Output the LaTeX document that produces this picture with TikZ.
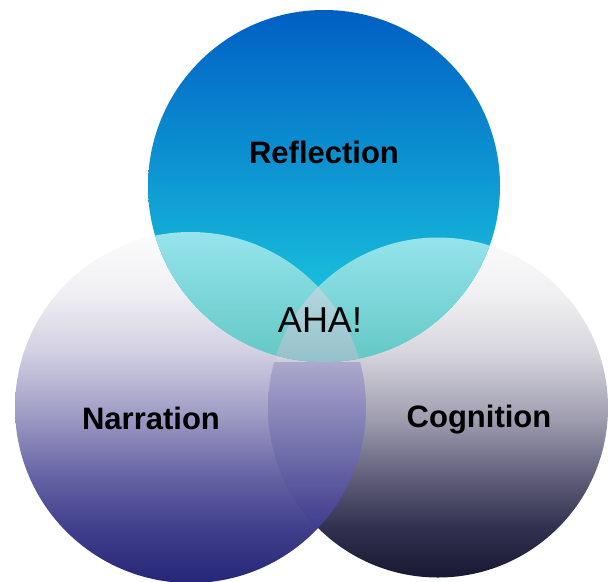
\documentclass[tikz,border=0pt]{standalone}
\usepackage{fontspec}
\setmainfont{Liberation Sans}
\definecolor{blueTop}{RGB}{0,95,196}
\definecolor{blueMid}{RGB}{14,166,224}
\definecolor{blueBot}{RGB}{30,214,226}
\definecolor{lensTop}{RGB}{172,169,205}
\definecolor{lensBot}{RGB}{62,60,142}
\definecolor{tealTop}{RGB}{150,228,236}
\definecolor{tealBot}{RGB}{98,200,196}
\definecolor{ahaTop}{RGB}{178,216,224}
\definecolor{ahaBot}{RGB}{150,192,202}
\definecolor{narrA}{RGB}{38,38,118}
\definecolor{narrB}{RGB}{62,62,140}
\definecolor{narrC}{RGB}{100,98,162}
\definecolor{narrD}{RGB}{156,153,196}
\definecolor{narrE}{RGB}{210,208,226}
\definecolor{narrF}{RGB}{240,240,244}
\definecolor{narrG}{RGB}{252,252,252}
\definecolor{cognA}{RGB}{24,24,50}
\definecolor{cognB}{RGB}{50,50,80}
\definecolor{cognC}{RGB}{98,96,124}
\definecolor{cognD}{RGB}{160,158,176}
\definecolor{cognE}{RGB}{214,213,220}
\definecolor{cognF}{RGB}{240,240,242}
\definecolor{cognG}{RGB}{251,251,251}
% vertical shadings, the path box runs from 25bp (bottom) to 75bp (top)
\pgfdeclareverticalshading{narrshade}{100bp}{%
  color(0bp)=(narrA); color(25bp)=(narrA); color(32.5bp)=(narrB);
  color(40bp)=(narrC); color(48.5bp)=(narrD); color(58bp)=(narrE);
  color(66.5bp)=(narrF); color(75bp)=(narrG); color(100bp)=(narrG)}
\pgfdeclareverticalshading{cognshade}{100bp}{%
  color(0bp)=(cognA); color(25bp)=(cognA); color(32.5bp)=(cognB);
  color(40bp)=(cognC); color(48.5bp)=(cognD); color(58bp)=(cognE);
  color(66.5bp)=(cognF); color(75bp)=(cognG); color(100bp)=(cognG)}
\begin{document}
\begin{tikzpicture}[x=1pt,y=-1pt,
  word/.style={font=\bfseries\fontsize{31}{31}\selectfont},
  aha/.style={font=\fontsize{36}{36}\selectfont}]
\useasboundingbox (0,0) rectangle (609,581);
\coordinate (R) at (324,186);
\coordinate (N) at (190.5,407.5);
\coordinate (C) at (438,407.5);
% lower circles
\shade[shading=narrshade] (N) circle[radius=175.5pt];
\shade[shading=cognshade] (C) circle[radius=170pt];
\begin{scope}
\clip (N) circle[radius=175.5pt];
\clip (C) circle[radius=170pt];
\shade[top color=lensTop, bottom color=lensBot] (0,362) rectangle (609,528);
\end{scope}
% upper circle
\shade[top color=blueTop, middle color=blueMid, bottom color=blueBot] (R) circle[radius=176pt];
\begin{scope}
\clip (R) circle[radius=176pt];
\clip (N) circle[radius=175.5pt];
\shade[top color=tealTop, bottom color=tealBot] (0,232) rectangle (609,362);
\end{scope}
\begin{scope}
\clip (R) circle[radius=176pt];
\clip (C) circle[radius=170pt];
\shade[top color=tealTop, bottom color=tealBot] (0,237) rectangle (609,362);
\end{scope}
\begin{scope}
\clip (R) circle[radius=176pt];
\clip (N) circle[radius=175.5pt];
\clip (C) circle[radius=170pt];
\shade[top color=ahaTop, bottom color=ahaBot] (0,287) rectangle (609,362);
\end{scope}
% labels
\node[word] (reflection) at (324,152) {Reflection};
\node[word] (narration) at (151,418) {Narration};
\node[word] (cognition) at (479,420) {Cognition};
\node[aha] (aha) at (320,320) {AHA!};
\end{tikzpicture}
\end{document}
